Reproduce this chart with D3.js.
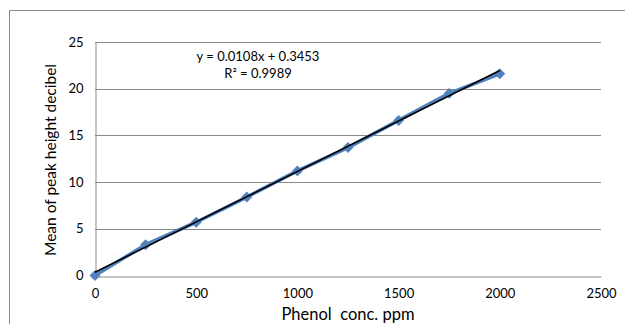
<!DOCTYPE html>
<html><head><meta charset="utf-8">
<script src="https://cdn.jsdelivr.net/npm/d3@7"></script>
<style>body{margin:0;background:#fff;}svg{display:block;font-family:Lato,"Open Sans",sans-serif;}</style>
</head><body>
<svg id="c" width="625" height="324"></svg>
<script>
const concentrations = [0, 250, 500, 750, 1000, 1250, 1500, 1750, 2000];
const peakHeights = [0, 3.3, 5.7, 8.4, 11.2, 13.7, 16.6, 19.5, 21.6];
const xTicks = [0, 500, 1000, 1500, 2000, 2500];
const yTicks = [0, 5, 10, 15, 20, 25];
const trendSlope = 0.0108, trendIntercept = 0.3453;
const equationText = "y = 0.0108x + 0.3453";
const r2Text = "R² = 0.9989";
const xTitle = "Phenol  conc. ppm";
const yTitle = "Mean of peak height decibel";

const svg = d3.select("#c");
// outer chart border
svg.append("rect").attr("x",9.5).attr("y",10.5).attr("width",640).attr("height",340)
  .attr("fill","none").attr("stroke","#8c8c8c").attr("stroke-width",1);

const x = d3.scaleLinear().domain([0,2500]).range([95,601]);
const y = d3.scaleLinear().domain([0,25]).range([275.5,42]);

// gridlines
svg.append("g").selectAll("line").data(yTicks.filter(d=>d>0)).join("line")
  .attr("x1",x(0)).attr("x2",x(2500)).attr("y1",d=>Math.round(y(d))+0.5).attr("y2",d=>Math.round(y(d))+0.5)
  .attr("stroke","#8a8a8a").attr("stroke-width",1);

// axes
const xa = svg.append("g").attr("transform",`translate(0,${Math.round(y(0))+0.5})`)
  .call(d3.axisBottom(x).tickValues(xTicks).tickSize(0).tickPadding(12).tickFormat(d3.format("d")));
const ya = svg.append("g").attr("transform",`translate(${x(0)+0.5},0)`)
  .call(d3.axisLeft(y).tickValues(yTicks).tickSize(0).tickPadding(12).tickFormat(d3.format("d")));
[xa,ya].forEach(a=>{
  a.select(".domain").attr("stroke","#8a8a8a");
  a.selectAll("text").attr("font-size",13).attr("fill","#000").attr("font-family","Lato,'Open Sans',sans-serif");
});

// data line
const line = d3.line().x((d,i)=>x(concentrations[i])).y(d=>y(d));
svg.append("path").datum(peakHeights).attr("d",line).attr("fill","none")
  .attr("stroke","#4f81bd").attr("stroke-width",3.6).attr("stroke-linejoin","round");
// markers (square diamonds)
svg.append("g").selectAll("path").data(peakHeights).join("path")
  .attr("d",d3.symbol(d3.symbolSquare,60))
  .attr("transform",(d,i)=>`translate(${x(concentrations[i])},${y(d)}) rotate(45)`)
  .attr("fill","#4f81bd");

// trendline
const tx = [concentrations[0], concentrations[concentrations.length-1]];
svg.append("line").attr("x1",x(tx[0])).attr("y1",y(trendSlope*tx[0]+trendIntercept))
  .attr("x2",x(tx[1])).attr("y2",y(trendSlope*tx[1]+trendIntercept))
  .attr("stroke","#000").attr("stroke-width",1.6);

// equation
svg.append("text").attr("x",258).attr("y",61).attr("text-anchor","middle").attr("font-size",13).text(equationText);
svg.append("text").attr("x",258).attr("y",78).attr("text-anchor","middle").attr("font-size",13).text(r2Text);

// axis titles
svg.append("text").attr("x",348).attr("y",320).attr("text-anchor","middle").attr("font-size",16.5)
  .style("white-space","pre").text(xTitle);
svg.append("text").attr("transform","translate(56,160) rotate(-90)").attr("text-anchor","middle")
  .attr("font-size",15.5).text(yTitle);
</script>
</body></html>
